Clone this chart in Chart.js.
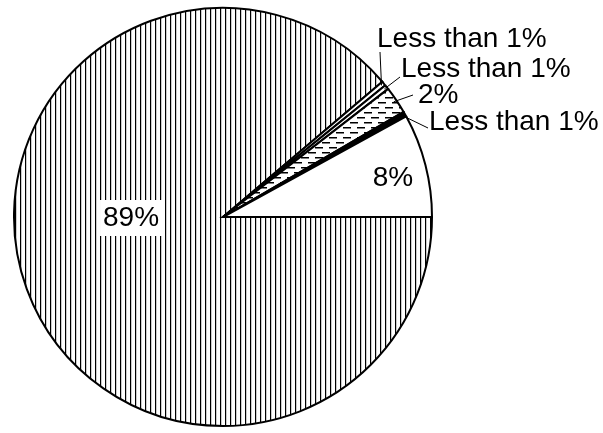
<!DOCTYPE html>
<html>
<head>
<meta charset="utf-8">
<script src="https://cdn.jsdelivr.net/npm/chart.js@4.4.1/dist/chart.umd.min.js"></script>
<style>
  html, body { margin: 0; padding: 0; background: #fff; }
  #wrap { width: 603px; height: 433px; }
</style>
</head>
<body>
<div id="wrap"><canvas id="pie" width="603" height="433"></canvas></div>
<script>
// slices, clockwise from 3 o'clock
var labels = ['89%', 'Less than 1%', 'Less than 1%', '2%', 'Less than 1%', '8%'];
var values = [88.8, 0.35, 0.35, 2.1, 0.4, 8.0];

// outside labels: text start x, baseline y, leader end x, leader end y; null = inside slice
var outside = [null, [377, 47, 380, 52], [401, 77, 400, 77], [418, 103, 413, 95], [429, 130, 428, 128], null];

function vLines() {
  var c = document.createElement('canvas');
  c.width = 5; c.height = 5;
  var g = c.getContext('2d');
  g.fillStyle = '#fff'; g.fillRect(0, 0, 5, 5);
  g.fillStyle = '#000'; g.fillRect(0, 0, 1.2, 5);
  return g.createPattern(c, 'repeat');
}
function dashes() {
  var c = document.createElement('canvas');
  c.width = 14; c.height = 10;
  var g = c.getContext('2d');
  g.fillStyle = '#fff'; g.fillRect(0, 0, 14, 10);
  g.fillStyle = '#000';
  g.fillRect(0, 2, 8, 1.5);
  g.fillRect(7, 7, 8, 1.5);
  g.fillRect(-7, 7, 8, 1.5);
  return g.createPattern(c, 'repeat');
}

var fills = [vLines(), '#fff', '#fff', dashes(), '#000', '#fff'];

var labelPlugin = {
  id: 'sliceLabels',
  afterDraw: function(chart) {
    var ctx = chart.ctx;
    var arcs = chart.getDatasetMeta(0).data;
    ctx.save();
    ctx.font = '28px "Liberation Sans", Arial, sans-serif';
    ctx.fillStyle = '#000';
    ctx.strokeStyle = '#000';
    ctx.lineWidth = 1;
    arcs.forEach(function(a, i) {
      var p = a.getProps(['x', 'y', 'startAngle', 'endAngle', 'outerRadius']);
      var mid = (p.startAngle + p.endAngle) / 2;
      var r = p.outerRadius;
      if (outside[i]) {
        var o = outside[i];
        var ex = p.x + Math.cos(mid) * (r - 3);
        var ey = p.y + Math.sin(mid) * (r - 3);
        ctx.beginPath();
        ctx.moveTo(ex, ey);
        ctx.lineTo(o[2], o[3]);
        ctx.stroke();
        ctx.textAlign = 'left';
        ctx.textBaseline = 'alphabetic';
        ctx.fillText(labels[i], o[0], o[1]);
      } else if (i === 0) {
        var lx = p.x - r * 0.44, ly = p.y;
        var w = ctx.measureText(labels[i]).width;
        ctx.fillStyle = '#fff';
        ctx.fillRect(lx - w / 2 - 3, ly - 17, w + 6, 36);
        ctx.fillStyle = '#000';
        ctx.textAlign = 'center';
        ctx.textBaseline = 'middle';
        ctx.fillText(labels[i], lx, ly + 1);
      } else {
        var mx = p.x + Math.cos(mid) * r * 0.82 + 4;
        var my = p.y + Math.sin(mid) * r * 0.82 + 4;
        ctx.textAlign = 'center';
        ctx.textBaseline = 'middle';
        ctx.fillText(labels[i], mx, my);
      }
    });
    ctx.restore();
  }
};

new Chart(document.getElementById('pie'), {
  type: 'pie',
  data: {
    labels: labels,
    datasets: [{
      data: values,
      backgroundColor: fills,
      borderColor: '#000',
      borderWidth: 2,
      borderJoinStyle: 'miter'
    }]
  },
  options: {
    responsive: false,
    animation: false,
    rotation: 90,
    layout: { padding: { left: 12, top: 7, right: 169, bottom: 6 } },
    plugins: {
      legend: { display: false },
      tooltip: { enabled: false }
    }
  },
  plugins: [labelPlugin]
});
</script>
</body>
</html>
